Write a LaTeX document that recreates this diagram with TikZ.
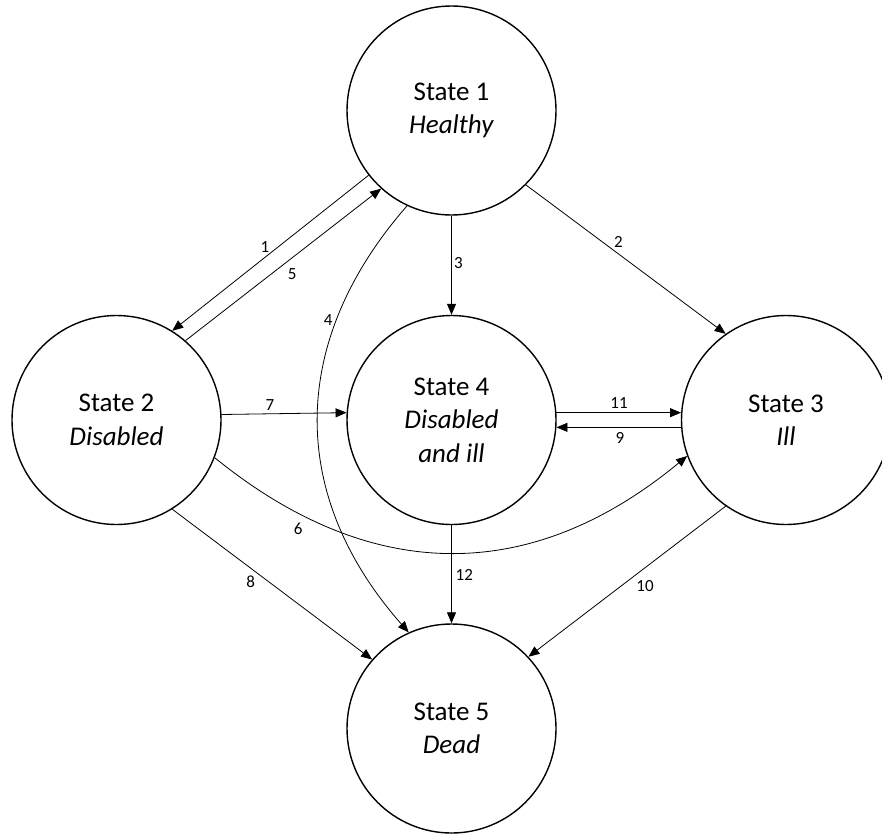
\documentclass[tikz,border=0pt]{standalone}
\usepackage{fontspec}
\setmainfont{Carlito}
\usetikzlibrary{arrows.meta}
\begin{document}
\begin{tikzpicture}[x=1pt,y=-1pt,
  state/.style={circle,draw,line width=1.4pt,minimum size=209pt,inner sep=0pt,align=center,
    font=\fontsize{27}{33.5}\selectfont},
  conn/.style={line width=0.8pt,-{Triangle[length=11pt,width=9pt]}},
  lbl/.style={inner sep=0pt,font=\fontsize{17}{20}\selectfont}]
\useasboundingbox (0,0) rectangle (882,835);
\clip (0,0) rectangle (882,835);
\node[state] (s1) at (451.5,110.5) {State 1\\\textit{Healthy}};
\node[state] (s2) at (116.5,420) {State 2\\\textit{Disabled}};
\node[state] (s4) at (451.5,420) {State 4\\\textit{Disabled}\\\textit{and ill}};
\node[state] (s3) at (786,420) {State 3\\\textit{Ill}};
\node[state] (s5) at (451.5,728.5) {State 5\\\textit{Dead}};
% connectors
\draw[conn] (s1.218.8) -- (s2.58.3);
\draw[conn] (s2.49.2) -- (s1.228.3);
\draw[conn] (s1.315) -- (s3.125.6);
\draw[conn] (s1.south) -- (s4.north);
\draw[conn] (s1.245.3) .. controls +(-119.3,136.3) and +(-120.3,-136.3) .. (s5.114.4);
\draw[conn] (s2.3.7) -- (s4.176.3);
\draw[conn] (s4.4) -- (s3.176);
\draw[conn] (s3.184.9) -- (s4.-4.9);
\draw[conn] (s2.339.7) .. controls +(156,126.7) and +(-156,129) .. (s3.200.2);
\draw[conn] (s2.302.3) -- (s5.139.4);
\draw[conn] (s4.south) -- (s5.north);
\draw[conn] (s3.235) -- (s5.43.7);
% labels
\node[lbl] (l1) at (265,246.7) {1};
\node[lbl] (l5) at (292.3,274) {5};
\node[lbl] (l2) at (618.3,241.7) {2};
\node[lbl] (l3) at (458.3,263.3) {3};
\node[lbl] (l4) at (328.3,320) {4};
\node[lbl] (l7) at (270,405) {7};
\node[lbl] (l11) at (619,403) {11};
\node[lbl] (l9) at (620,438) {9};
\node[lbl] (l6) at (298.3,529.3) {6};
\node[lbl] (l8) at (250.7,581.7) {8};
\node[lbl] (l12) at (464.3,575) {12};
\node[lbl] (l10) at (645,586) {10};
\end{tikzpicture}
\end{document}
